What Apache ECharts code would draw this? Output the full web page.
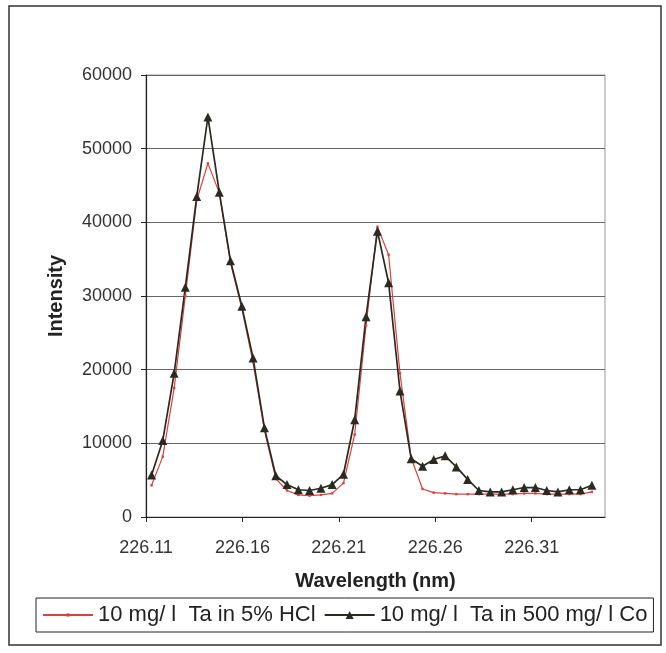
<!DOCTYPE html>
<html>
<head>
<meta charset="utf-8">
<script src="https://cdn.jsdelivr.net/npm/echarts@6/dist/echarts.min.js"></script>
<style>
  html, body { margin: 0; padding: 0; background: #fff; }
  #chart { width: 666px; height: 653px; }
</style>
</head>
<body>
<div id="chart"></div>
<script>
// wavelength of every measured point (nm)
var wavelengths = [226.1129, 226.1187, 226.1246, 226.1304, 226.1363, 226.1421, 226.1480, 226.1538, 226.1597, 226.1655,
  226.1714, 226.1773, 226.1831, 226.1890, 226.1948, 226.2007, 226.2065, 226.2124, 226.2182, 226.2241,
  226.2300, 226.2358, 226.2417, 226.2475, 226.2534, 226.2592, 226.2651, 226.2709, 226.2768, 226.2826,
  226.2885, 226.2944, 226.3002, 226.3061, 226.3119, 226.3178, 226.3236, 226.3295, 226.3353, 226.3412];
// 10 mg/l Ta in 5% HCl
var taHcl = [4300, 8200, 17500, 30000, 43000, 48000, 44000, 34500, 28300, 21000,
  11800, 5200, 3600, 3000, 2900, 3000, 3200, 4600, 11200, 26000,
  39400, 35600, 19500, 8000, 3800, 3300, 3200, 3100, 3100, 3100,
  3100, 3100, 3100, 3200, 3200, 3100, 3100, 3100, 3100, 3400];
// 10 mg/l Ta in 500 mg/l Co
var taCo = [5700, 10400, 19500, 31200, 43500, 54300, 44100, 34800, 28600, 21600,
  12100, 5600, 4400, 3700, 3600, 3900, 4400, 5800, 13200, 27200,
  38800, 31800, 17100, 7900, 6900, 7800, 8300, 6800, 5100, 3600,
  3400, 3400, 3700, 4000, 4000, 3600, 3400, 3700, 3700, 4300];
var xTicks = [226.11, 226.16, 226.21, 226.26, 226.31];
var seriesNames = ['10 mg/ l  Ta in 5% HCl', '10 mg/ l  Ta in 500 mg/ l Co'];

// small centred dot (padding kept in the path box so it stays tiny)
var tinyDot = 'path://M0,0M10,10M3,3h4v4h-4z';

function pairs(ys) {
  return ys.map(function (y, i) { return [wavelengths[i], y]; });
}

var myChart = echarts.init(document.getElementById('chart'));
var option = {
  animation: false,
  backgroundColor: '#fff',
  textStyle: { fontFamily: 'Liberation Sans, Arial, sans-serif' },
  graphic: [{
    type: 'rect',
    shape: { x: 9, y: 6, width: 652, height: 639 },
    style: { fill: 'none', stroke: '#333', lineWidth: 1.5 },
    silent: true
  }],
  grid: {
    left: 146, top: 75, width: 459, height: 442,
    show: true, borderColor: '#999', borderWidth: 1
  },
  legend: {
    data: seriesNames,
    left: 36, top: 598,
    padding: [6, 6, 6, 6],
    borderColor: '#222', borderWidth: 1,
    itemWidth: 50, itemHeight: 10, itemGap: 8,
    textStyle: { fontSize: 22, color: '#222' }
  },
  xAxis: {
    type: 'value',
    min: 226.11, max: 226.348,
    name: 'Wavelength (nm)',
    nameLocation: 'middle',
    nameGap: 64,
    nameTextStyle: { fontSize: 20, fontWeight: 'bold', color: '#222', verticalAlign: 'middle' },
    axisLine: { lineStyle: { color: '#222', width: 1.2 } },
    axisTick: { show: true, length: 5, customValues: xTicks, lineStyle: { color: '#222' } },
    axisLabel: {
      customValues: xTicks, margin: 22, fontSize: 18, color: '#333',
      formatter: function (v) { return v.toFixed(2); }
    },
    splitLine: { show: false }
  },
  yAxis: {
    type: 'value',
    min: 0, max: 60000, interval: 10000,
    name: 'Intensity',
    nameLocation: 'middle',
    nameGap: 90,
    nameTextStyle: { fontSize: 20, fontWeight: 'bold', color: '#222', verticalAlign: 'middle' },
    axisLine: { show: true, lineStyle: { color: '#222', width: 1.2 } },
    axisTick: { show: true, length: 5, lineStyle: { color: '#222' } },
    axisLabel: {
      margin: 14, fontSize: 18, color: '#333',
      formatter: function (v) { return String(v); }
    },
    splitLine: { lineStyle: { color: '#666', width: 1 } }
  },
  series: [{
      name: seriesNames[0],
      type: 'line',
      data: pairs(taHcl),
      symbol: tinyDot, symbolSize: 6,
      itemStyle: { color: '#d9403f' },
      lineStyle: { color: '#d9403f', width: 1.2 }
    }, {
      name: seriesNames[1],
      type: 'line',
      data: pairs(taCo),
      symbol: 'triangle', symbolSize: 9,
      itemStyle: { color: '#2a2a22' },
      lineStyle: { color: '#2a2a22', width: 1.7 }
    }
  ]
};
myChart.setOption(option, true);
</script>
</body>
</html>
